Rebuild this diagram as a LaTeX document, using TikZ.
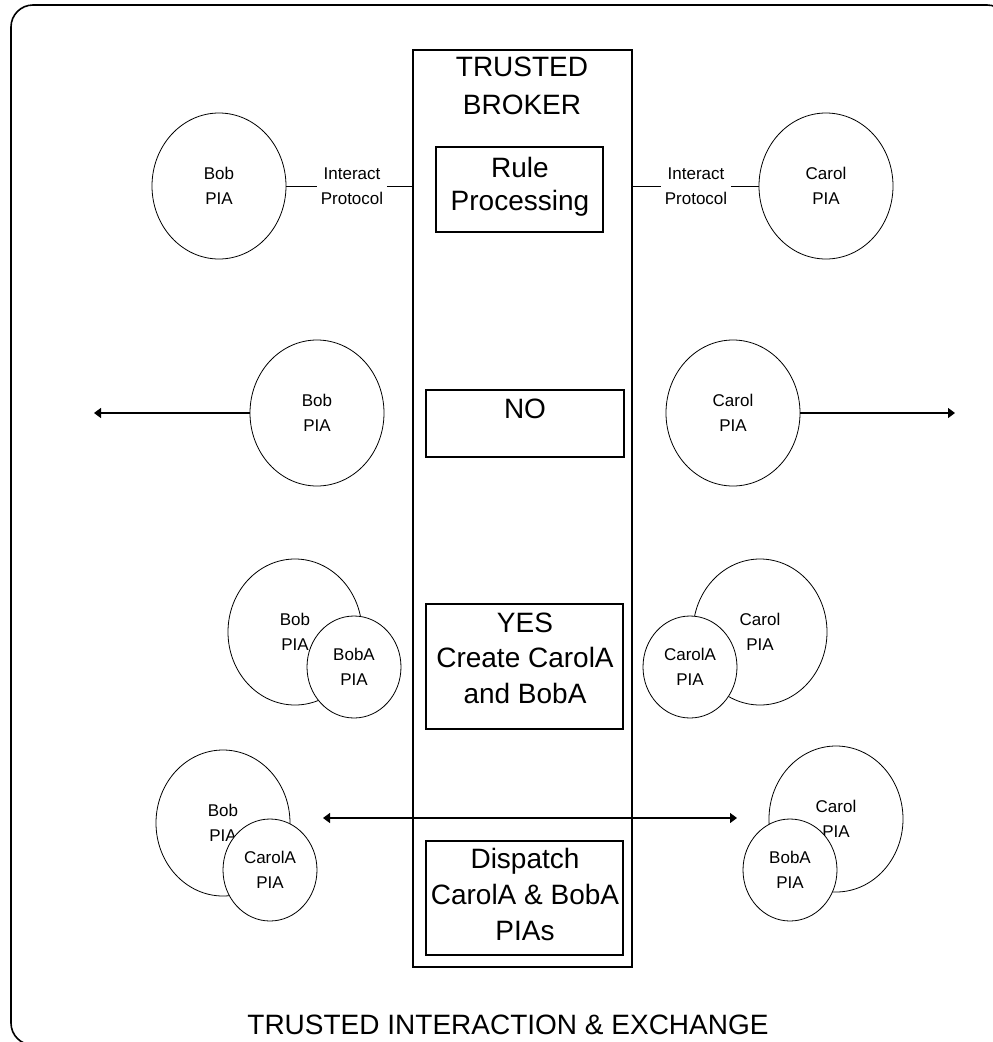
\documentclass[tikz,border=0pt]{standalone}
\usepackage{fontspec}
\setmainfont{Liberation Sans}
\usetikzlibrary{shapes.geometric,arrows.meta}
\begin{document}
\begin{tikzpicture}[x=1pt,y=-1pt,
  pia/.style={draw, ellipse, line width=0.8pt, inner sep=0pt,
    minimum width=134pt, minimum height=146pt, align=center,
    font=\fontsize{17}{25}\selectfont},
  subpia/.style={pia, fill=white, minimum width=94pt, minimum height=102pt},
  box/.style={draw, line width=1.2pt, inner sep=0pt},
  lbl/.style={align=center, inner sep=0pt},
  big/.style={font=\fontsize{28}{#1}\selectfont},
  proto/.style={align=center, font=\fontsize{17}{25}\selectfont, inner sep=3.5pt},
  link/.style={line width=0.8pt},
  flow/.style={line width=1.3pt, -{Triangle[length=7pt,width=10pt]}},
  dflow/.style={line width=1.3pt, {Triangle[length=7pt,width=10pt]}-{Triangle[length=7pt,width=10pt]}},
]
\useasboundingbox (0,0) rectangle (993,1042);
\clip (0,0) rectangle (993,1042);

% outer frame
\draw[line width=1.6pt, rounded corners=22pt] (11,5) rectangle (1009,1045);

% broker column and its stages
\node[box, minimum width=219pt, minimum height=917pt] (broker) at (522.5,508.5) {};
\node[lbl, big=38] (brokertitle) at (522,86) {TRUSTED\\BROKER};

\node[box, minimum width=167pt, minimum height=85pt] (rule) at (519.5,189.5) {};
\node[lbl, big=33] (ruletxt) at (520,187) {Rule\\Processing};

\node[box, minimum width=198pt, minimum height=67pt] (no) at (525,423.5) {};
\node[lbl, big=33, anchor=base] (notxt) at (525,418) {NO};

\node[box, minimum width=197pt, minimum height=125pt] (yes) at (524.5,666.5) {};
\node[lbl, big=35.5] (yestxt) at (525,658) {YES\\Create CarolA\\and BobA};

\node[box, minimum width=197pt, minimum height=114pt] (dispatch) at (524.5,898) {};
\node[lbl, big=36] (dispatchtxt) at (525,894) {Dispatch\\CarolA \& BobA\\PIAs};

% row 1: interaction protocol
\node[pia] (bob1) at (219,186) {Bob\\PIA};
\node[pia] (carol1) at (826,186) {Carol\\PIA};
\node[proto] (ipl) at (352,186.5) {Interact\\Protocol};
\node[proto] (ipr) at (696,186.5) {Interact\\Protocol};
\draw[link] (bob1.east) -- (ipl.west |- bob1.east);
\draw[link] (ipl.east |- bob1.east) -- (broker.west |- bob1.east);
\draw[link] (broker.east |- carol1.west) -- (ipr.west |- carol1.west);
\draw[link] (ipr.east |- carol1.west) -- (carol1.west);

% row 2: rejected
\node[pia] (bob2) at (317,413) {Bob\\PIA};
\node[pia] (carol2) at (733,413) {Carol\\PIA};
\coordinate (leftout) at (94,413);
\coordinate (rightout) at (955,413);
\draw[flow] (bob2.west) -- (leftout);
\draw[flow] (carol2.east) -- (rightout);

% row 3: agents created
\node[pia] (bob3) at (295,632) {Bob\\PIA};
\node[subpia] (boba3) at (354,667) {BobA\\PIA};
\node[pia] (carol3) at (760,632) {Carol\\PIA};
\node[subpia] (carola3) at (690,667) {CarolA\\PIA};

% row 4: agents exchanged
\node[pia] (bob4) at (223,823) {Bob\\PIA};
\node[subpia] (carola4) at (270,870) {CarolA\\PIA};
\node[pia] (carol4) at (836,819) {Carol\\PIA};
\node[subpia] (boba4) at (790,870) {BobA\\PIA};
\coordinate (xl) at (323,818);
\coordinate (xr) at (737,818);
\draw[dflow] (xl) -- (xr);

% caption
\node[lbl, big=34, anchor=base] (caption) at (508,1034) {TRUSTED INTERACTION \& EXCHANGE};
\end{tikzpicture}
\end{document}
